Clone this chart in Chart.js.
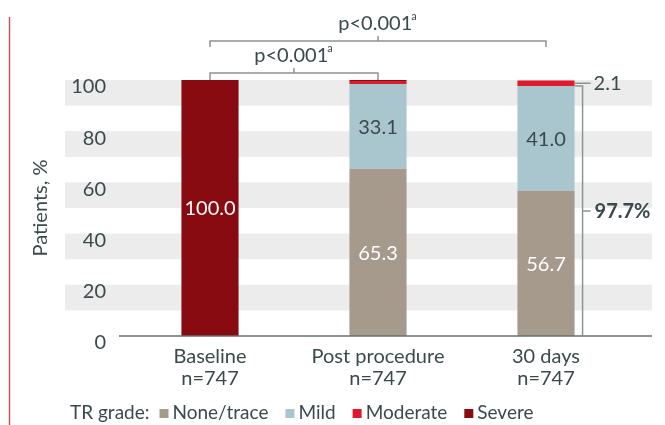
<!DOCTYPE html>
<html>
<head>
<meta charset="utf-8">
<script src="https://cdn.jsdelivr.net/npm/chart.js@4.4.1/dist/chart.umd.min.js"></script>
<style>
  html, body { margin: 0; padding: 0; background: #fff; }
  canvas { display: block; }
</style>
</head>
<body>
<canvas id="chart" width="665" height="425"></canvas>
<script>
// data
var categories = ['Baseline', 'Post procedure', '30 days'];
var sampleSizes = ['n=747', 'n=747', 'n=747'];
var noneTrace = [0, 65.3, 56.7];
var mild = [0, 33.1, 41.0];
var moderate = [0, 1.2, 2.1];
var severe = [100.0, 0.4, 0];
var seriesNames = ['None/trace', 'Mild', 'Moderate', 'Severe'];
var yTicks = [0, 20, 40, 60, 80, 100];
var pLabels = ['p<0.001', 'p<0.001'];

var FONT = "Lato, 'Open Sans', sans-serif";
var TEXT = '#3a4a4c';
var colors = ['#a69a8c', '#a9c5cd', '#e0192e', '#870b10'];
var labelColors = ['#ffffff', TEXT, '#ffffff', '#ffffff'];

// grey bands, axis line, left red rule
var backdrop = {
    id: 'backdrop',
    beforeDraw: function (chart) {
        var ctx = chart.ctx, y = chart.scales.y;
        ctx.save();
        ctx.fillStyle = '#ebeceb';
        for (var v = 20; v <= 100; v += 20) {
            var t = y.getPixelForValue(v), b = y.getPixelForValue(v - 10);
            ctx.fillRect(65, t, 652 - 65, b - t);
        }
        ctx.strokeStyle = '#c0585c';
        ctx.lineWidth = 1.5;
        ctx.beginPath();
        ctx.moveTo(9.5, 17);
        ctx.lineTo(9.5, 425);
        ctx.stroke();
        ctx.restore();
    },
    afterDatasetsDraw: function (chart) {
        var ctx = chart.ctx, y0 = chart.scales.y.getPixelForValue(0);
        ctx.save();
        ctx.strokeStyle = '#66716f';
        ctx.lineWidth = 1.5;
        ctx.beginPath();
        ctx.moveTo(119, y0);
        ctx.lineTo(652, y0);
        ctx.stroke();
        ctx.restore();
    }
};

// values inside the segments
var segmentLabels = {
    id: 'segmentLabels',
    afterDatasetsDraw: function (chart) {
        var ctx = chart.ctx;
        ctx.save();
        ctx.font = '20px ' + FONT;
        ctx.textAlign = 'center';
        ctx.textBaseline = 'middle';
        chart.data.datasets.forEach(function (ds, i) {
            chart.getDatasetMeta(i).data.forEach(function (bar, j) {
                if (ds.data[j] < 10) return;
                ctx.fillStyle = labelColors[i];
                ctx.fillText(ds.data[j].toFixed(1), bar.x, (bar.y + bar.base) / 2 + 1);
            });
        });
        ctx.restore();
    }
};

function supText(ctx, txt, cx, cy) {
    ctx.font = '20px ' + FONT;
    var w = ctx.measureText(txt).width;
    ctx.font = '11px ' + FONT;
    var ws = ctx.measureText('a').width;
    var x = cx - (w + ws) / 2;
    ctx.textAlign = 'left';
    ctx.textBaseline = 'middle';
    ctx.font = '20px ' + FONT;
    ctx.fillText(txt, x, cy);
    ctx.font = '11px ' + FONT;
    ctx.fillText('a', x + w - 1, cy - 8);
}

// p-value brackets and the 30-day annotations
var annotations = {
    id: 'annotations',
    afterDraw: function (chart) {
        var ctx = chart.ctx, xs = chart.scales.x, ys = chart.scales.y;
        var x0 = xs.getPixelForValue(0), x1 = xs.getPixelForValue(1), x2 = xs.getPixelForValue(2);
        var top = ys.getPixelForValue(100);
        ctx.save();
        ctx.strokeStyle = '#8c9494';
        ctx.fillStyle = TEXT;
        ctx.lineWidth = 1.5;

        // outer bracket
        var yb = top - 39, mid = (x0 + x2) / 2;
        ctx.beginPath();
        ctx.moveTo(x0, yb + 6); ctx.lineTo(x0, yb); ctx.lineTo(x2, yb); ctx.lineTo(x2, yb + 6);
        ctx.moveTo(mid, yb); ctx.lineTo(mid, yb - 5);
        ctx.stroke();
        supText(ctx, pLabels[1], mid, yb - 17);

        // inner bracket
        yb = top - 7; mid = (x0 + x1) / 2;
        ctx.beginPath();
        ctx.moveTo(x0, top); ctx.lineTo(x0, yb); ctx.lineTo(x1, yb); ctx.lineTo(x1, top);
        ctx.moveTo(mid, yb); ctx.lineTo(mid, yb - 5);
        ctx.stroke();
        supText(ctx, pLabels[0], mid, yb - 17);

        // right side of 30 days bar
        var bar = chart.getDatasetMeta(0).data[2];
        var right = bar.x + bar.width / 2;
        var sum = noneTrace[2] + mild[2];
        var yTop = ys.getPixelForValue(sum), yBase = ys.getPixelForValue(0);
        var yMid = ys.getPixelForValue(sum / 2);
        var yMod = ys.getPixelForValue(sum + moderate[2] / 2);
        var bx = right + 8;
        ctx.beginPath();
        ctx.moveTo(right, yTop); ctx.lineTo(bx, yTop); ctx.lineTo(bx, yBase);
        ctx.moveTo(bx, yMid); ctx.lineTo(bx + 8, yMid);
        ctx.moveTo(right, yMod); ctx.lineTo(right + 16, yMod);
        ctx.stroke();
        ctx.textAlign = 'left';
        ctx.textBaseline = 'middle';
        ctx.font = '20px ' + FONT;
        ctx.fillText(moderate[2].toFixed(1), right + 19, yMod);
        ctx.font = 'bold 20px ' + FONT;
        ctx.fillText(sum.toFixed(1) + '%', bx + 12, yMid + 1);
        ctx.restore();
    }
};

// "TR grade:" legend along the bottom
var legendRow = {
    id: 'legendRow',
    afterDraw: function (chart) {
        var ctx = chart.ctx, x = 70, y = 413;
        ctx.save();
        ctx.font = '19px ' + FONT;
        ctx.textAlign = 'left';
        ctx.textBaseline = 'middle';
        ctx.fillStyle = TEXT;
        ctx.fillText('TR grade:', x, y);
        x += ctx.measureText('TR grade:').width + 10;
        chart.data.datasets.forEach(function (ds) {
            ctx.fillStyle = ds.backgroundColor;
            ctx.fillRect(x, y - 4, 9, 9);
            x += 9 + 4;
            ctx.fillStyle = TEXT;
            ctx.fillText(ds.label, x, y);
            x += ctx.measureText(ds.label).width + 17;
        });
        ctx.restore();
    }
};

var series = [noneTrace, mild, moderate, severe];

new Chart(document.getElementById('chart'), {
    type: 'bar',
    data: {
        labels: categories.map(function (c, i) { return [c, sampleSizes[i]]; }),
        datasets: series.map(function (d, i) {
            return {
                label: seriesNames[i],
                data: d,
                backgroundColor: colors[i],
                borderWidth: 0,
                categoryPercentage: 1,
                barPercentage: 0.34
            };
        })
    },
    options: {
        responsive: false,
        animation: false,
        layout: { padding: { top: 80, right: 35, left: 0, bottom: 0 } },
        plugins: {
            legend: { display: false },
            tooltip: { enabled: false }
        },
        scales: {
            x: {
                stacked: true,
                grid: { display: false },
                border: { display: false },
                ticks: {
                    color: TEXT,
                    padding: 1,
                    font: { family: FONT, size: 20, lineHeight: 1.12 }
                },
                afterFit: function (s) { s.height = 89; }
            },
            y: {
                stacked: true,
                min: 0,
                max: 100,
                grid: { display: false, drawTicks: false },
                border: { display: false },
                afterBuildTicks: function (s) {
                    s.ticks = yTicks.map(function (v) { return { value: v }; });
                },
                ticks: {
                    color: TEXT,
                    padding: 20,
                    labelOffset: 7,
                    font: { family: FONT, size: 20 }
                },
                title: {
                    display: true,
                    text: 'Patients, %',
                    color: TEXT,
                    padding: { top: 29, bottom: 0 },
                    font: { family: FONT, size: 20 }
                },
                afterFit: function (s) { s.width = 126; }
            }
        }
    },
    plugins: [backdrop, segmentLabels, annotations, legendRow]
});
</script>
</body>
</html>
